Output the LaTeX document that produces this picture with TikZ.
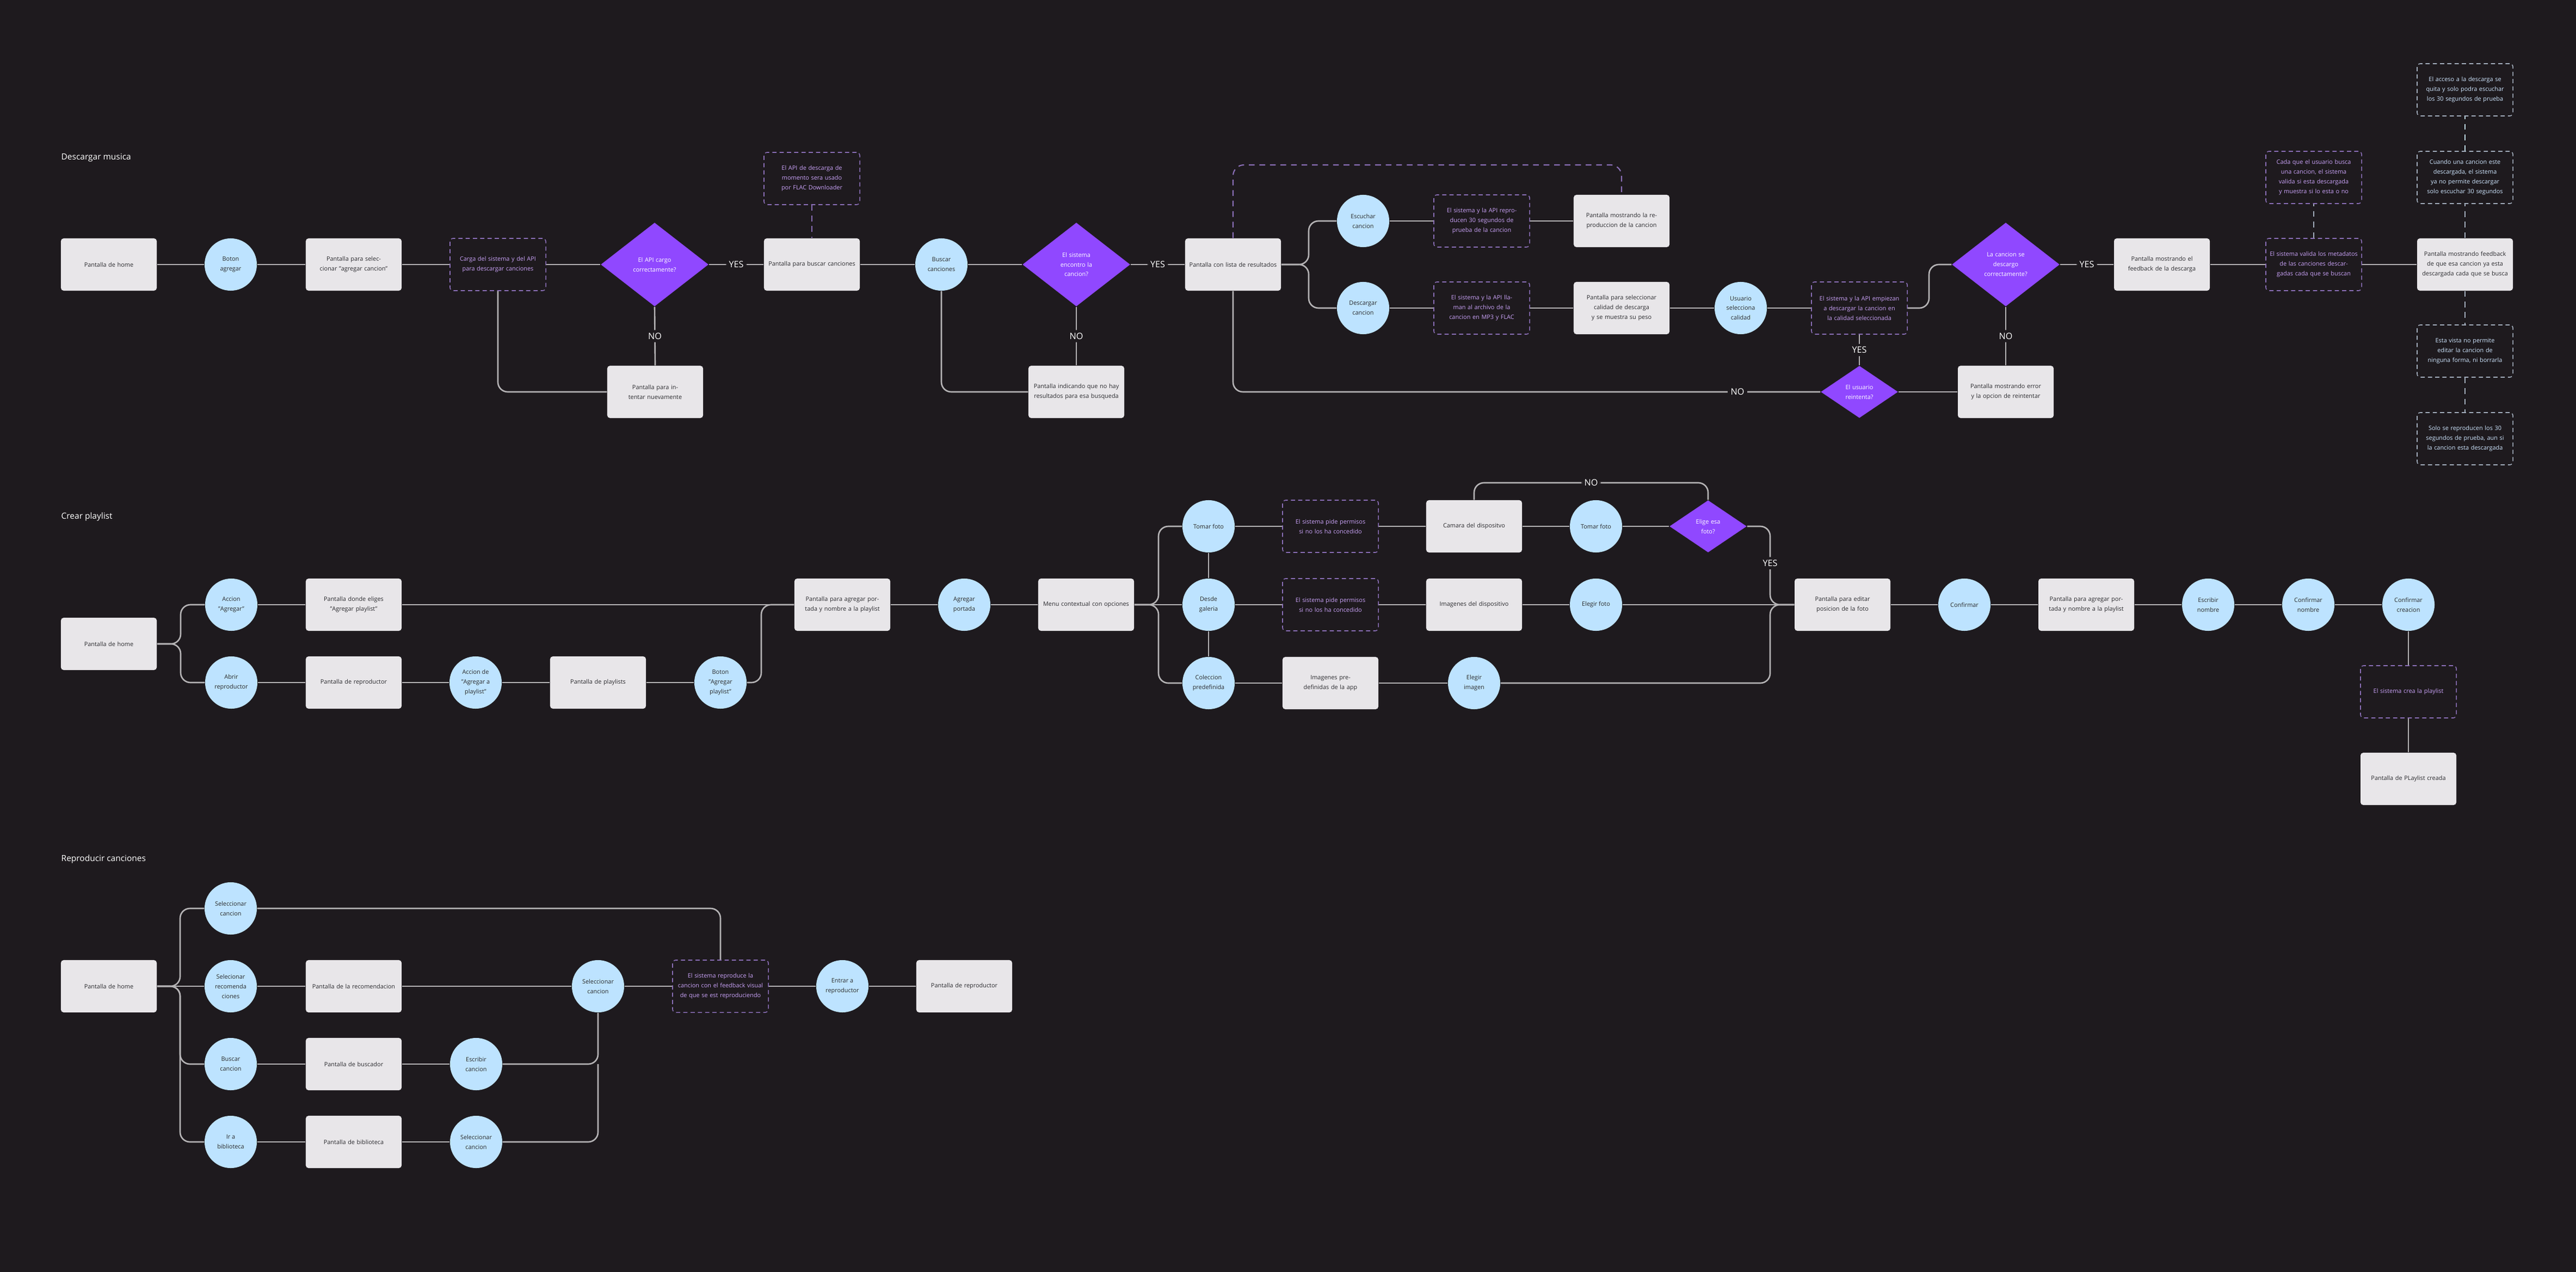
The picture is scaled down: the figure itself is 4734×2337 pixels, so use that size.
\documentclass[tikz,border=0pt]{standalone}
\usepackage{fontspec}
\setmainfont{Open Sans}
\usetikzlibrary{shapes.geometric}
\definecolor{bg}{HTML}{1E1A1E}
\definecolor{boxc}{HTML}{E8E6E9}
\definecolor{circc}{HTML}{BDE3FF}
\definecolor{diac}{HTML}{9048FF}
\definecolor{notec}{HTML}{8B6FB8}
\definecolor{notet}{HTML}{C9A2F7}
\definecolor{bnotec}{HTML}{A3AEBD}
\definecolor{bnotet}{HTML}{CFE6FF}
\definecolor{linec}{HTML}{B5B3B5}
\definecolor{txt}{HTML}{2A2A2E}
\begin{document}
\begin{tikzpicture}[x=0.01cm,y=-0.01cm,
  base/.style={font=\fontsize{3.1}{5.1}\selectfont,align=center,inner sep=0},
  box/.style={base,rectangle,rounded corners=0.05cm,fill=boxc,text=txt,minimum width=1.76cm,minimum height=0.96cm,text width=1.62cm},
  circ/.style={base,circle,fill=circc,text=txt,minimum size=0.96cm},
  note/.style={base,rectangle,rounded corners=0.06cm,draw=notec,line width=0.45pt,dash pattern=on 2.2pt off 1.6pt,text=notet,minimum width=1.76cm,minimum height=0.96cm,text width=1.62cm},
  bnote/.style={note,draw=bnotec,text=bnotet},
  dia/.style={diamond,fill=diac,inner sep=0,minimum width=1.98cm,minimum height=1.54cm},
  sdia/.style={diamond,fill=diac,inner sep=0,minimum width=1.42cm,minimum height=0.96cm},
  dlab/.style={base,text=white,text width=1.1cm},
  conn/.style={draw=linec,line width=0.75pt,rounded corners=0.18cm},
  dconn/.style={draw=notec,line width=0.6pt,dash pattern=on 3pt off 2.5pt,rounded corners=0.2cm},
  bconn/.style={draw=bnotec,line width=0.6pt,dash pattern=on 3pt off 2.5pt},
  lbl/.style={font=\fontsize{4.6}{5}\selectfont,text=white,fill=bg,inner sep=1.5pt},
  title/.style={font=\fontsize{4.4}{5}\selectfont,text=white,anchor=west,inner sep=0}]
\fill[bg] (0,0) rectangle (4734,2337);
\useasboundingbox (0,0) rectangle (4734,2337);

% ===== Section 1 =====
\node[title] (t1) at (112,290) {Descargar musica};
\node[box] (hm1) at (200,486) {Pantalla de home};
\node[circ] (bo1) at (424,486) {Boton\\agregar};
\node[box] (ps1) at (650,486) {Pantalla para seleccionar "agregar cancion"};
\node[note] (cg1) at (915,486) {Carga del sistema y del API para descargar canciones};
\node[dia,label={[dlab]center:El API cargo\\correctamente?}] (d1) at (1203,486) {};
\node[box] (pb1) at (1492,486) {Pantalla para buscar canciones};
\node[note] (an1) at (1492,328) {El API de descarga de momento sera usado por FLAC Downloader};
\node[box] (pi1) at (1204,720) {Pantalla para intentar nuevamente};
\node[circ] (bc1) at (1730,486) {Buscar\\canciones};
\node[dia,label={[dlab]center:El sistema\\encontro la\\cancion?}] (d2) at (1978,486) {};
\node[box] (pl1) at (2266,486) {Pantalla con lista de resultados};
\node[box] (ni1) at (1978,720) {Pantalla indicando que no hay resultados para esa busqueda};
\node[circ] (ec1) at (2505,406) {Escuchar\\cancion};
\node[note] (n2) at (2723,406) {El sistema y la API reproducen 30 segundos de prueba de la cancion};
\node[box] (pm1) at (2980,406) {Pantalla mostrando la reproduccion de la cancion};
\node[circ] (dc1) at (2505,566) {Descargar\\cancion};
\node[note] (n3) at (2723,566) {El sistema y la API llaman al archivo de la cancion en MP3 y FLAC};
\node[box] (pc1) at (2980,566) {Pantalla para seleccionar calidad de descarga y se muestra su peso};
\node[circ] (us1) at (3199,566) {Usuario\\selecciona\\calidad};
\node[note] (n4) at (3417,566) {El sistema y la API empiezan a descargar la cancion en la calidad seleccionada};
\node[dia,label={[dlab]center:La cancion se\\descargo\\correctamente?}] (d3) at (3686,486) {};
\node[box] (pf1) at (3973,486) {Pantalla mostrando el feedback de la descarga};
\node[note] (n5) at (4252,486) {El sistema valida los metadatos de las canciones descargadas cada que se buscan};
\node[note] (n6) at (4252,326) {Cada que el usuario busca una cancion, el sistema valida si esta descargada y muestra si lo esta o no};
\node[box] (pf2) at (4530,486) {Pantalla mostrando feedback de que esa cancion ya esta descargada cada que se busca};
\node[bnote] (b1) at (4530,326) {Cuando una cancion este descargada, el sistema ya no permite descargar solo escuchar 30 segundos};
\node[bnote] (b2) at (4530,165) {El acceso a la descarga se quita y solo podra escuchar los 30 segundos de prueba};
\node[bnote] (b3) at (4530,645) {Esta vista no permite editar la cancion de ninguna forma, ni borrarla};
\node[bnote] (b4) at (4530,806) {Solo se reproducen los 30 segundos de prueba, aun si la cancion esta descargada};
\node[sdia,label={[dlab]center:El usuario\\reintenta?}] (d4) at (3417,720) {};
\node[box] (pe1) at (3686,720) {Pantalla mostrando error y la opcion de reintentar};

\draw[conn] (hm1) -- (bo1); \draw[conn] (bo1) -- (ps1); \draw[conn] (ps1) -- (cg1);
\draw[conn] (cg1) -- (d1);
\draw[conn] (d1) -- node[lbl]{YES} (pb1);
\draw[conn] (pb1) -- (bc1); \draw[conn] (bc1) -- (d2);
\draw[conn] (d2) -- node[lbl]{YES} (pl1);
\draw[conn] (cg1.south) |- (pi1.west);
\draw[conn] (d1.south) -- node[lbl]{NO} (pi1.north);
\draw[dconn] (an1.south) -- (pb1.north);
\draw[conn] (bc1.south) |- (ni1.west);
\draw[conn] (d2.south) -- node[lbl]{NO} (ni1.north);
\draw[conn] (pl1.east) -- (2405,486) |- (ec1.west);
\draw[conn] (pl1.east) -- (2405,486) |- (dc1.west);
\draw[conn] (ec1) -- (n2); \draw[conn] (n2) -- (pm1);
\draw[conn] (dc1) -- (n3); \draw[conn] (n3) -- (pc1); \draw[conn] (pc1) -- (us1); \draw[conn] (us1) -- (n4);
\draw[dconn] (pl1.north) -- (2266,303) -- (2980,303) -- (pm1.north);
\draw[conn] (pl1.south) |- (d4.west);
\node[lbl] (nol) at (3193,720) {NO};
\draw[conn] (d4.east) -- (pe1.west);
\draw[conn] (pe1.north) -- node[lbl]{NO} (d3.south);
\draw[conn] (d4.north) -- node[lbl]{YES} (n4.south);
\draw[conn] (n4.east) -- (3545,566) -- (3545,486) -- (d3.west);
\draw[conn] (d3.east) -- node[lbl]{YES} (pf1.west);
\draw[conn] (pf1) -- (n5); \draw[conn] (n5) -- (pf2);
\draw[bconn] (n5.north) -- (n6.south);
\draw[bconn] (pf2.north) -- (b1.south);
\draw[bconn,draw=circc] (b1.north) -- (b2.south);
\draw[bconn] (pf2.south) -- (b3.north);
\draw[bconn] (b3.south) -- (b4.north);

% ===== Section 2 =====
\node[title] (t2) at (112,949) {Crear playlist};
\node[box] (hm2) at (200,1183) {Pantalla de home};
\node[circ] (aa) at (425,1111) {Accion\\"Agregar"};
\node[box] (pe2) at (650,1111) {Pantalla donde eliges "Agregar playlist"};
\node[circ] (ar) at (425,1254) {Abrir\\reproductor};
\node[box] (pr2) at (650,1254) {Pantalla de reproductor};
\node[circ] (aap) at (874,1254) {Accion de\\"Agregar a\\playlist"};
\node[box] (pp2) at (1099,1254) {Pantalla de playlists};
\node[circ] (bap) at (1324,1254) {Boton\\"Agregar\\playlist"};
\node[box] (pap) at (1548,1111) {Pantalla para agregar portada y nombre a la playlist};
\node[circ] (agp) at (1772,1111) {Agregar\\portada};
\node[box] (mc) at (1996,1111) {Menu contextual con opciones};
\node[circ] (tf) at (2221,967) {Tomar foto};
\node[circ] (dg) at (2221,1111) {Desde\\galeria};
\node[circ] (cp) at (2221,1255) {Coleccion\\predefinida};
\node[note] (np1) at (2445,967) {El sistema pide permisos si no los ha concedido};
\node[note] (np2) at (2445,1111) {El sistema pide permisos si no los ha concedido};
\node[box] (cam) at (2709,967) {Camara del dispositvo};
\node[box] (imd) at (2709,1111) {Imagenes del dispositivo};
\node[box] (ipd) at (2445,1255) {Imagenes predefinidas de la app};
\node[circ] (tf2) at (2933,967) {Tomar foto};
\node[circ] (ef) at (2933,1111) {Elegir foto};
\node[circ] (ei) at (2709,1255) {Elegir\\imagen};
\node[sdia,label={[dlab]center:Elige esa\\foto?}] (d5) at (3139,967) {};
\node[box] (ped) at (3386,1111) {Pantalla para editar posicion de la foto};
\node[circ] (cf) at (3610,1111) {Confirmar};
\node[box] (pap2) at (3834,1111) {Pantalla para agregar portada y nombre a la playlist};
\node[circ] (en) at (4058,1111) {Escribir\\nombre};
\node[circ] (cn) at (4242,1111) {Confirmar\\nombre};
\node[circ] (cc) at (4426,1111) {Confirmar\\creacion};
\node[note] (ncp) at (4426,1271) {El sistema crea la playlist};
\node[box] (ppc) at (4426,1431) {Pantalla de PLaylist creada};

\draw[conn] (hm2.east) -- (332,1183) |- (aa.west);
\draw[conn] (hm2.east) -- (332,1183) |- (ar.west);
\draw[conn] (aa) -- (pe2); \draw[conn] (pe2) -- (pap);
\draw[conn] (ar) -- (pr2); \draw[conn] (pr2) -- (aap); \draw[conn] (aap) -- (pp2); \draw[conn] (pp2) -- (bap);
\draw[conn] (bap.east) -- (1399,1254) -- (1399,1111) -- (pap.west);
\draw[conn] (pap) -- (agp); \draw[conn] (agp) -- (mc);
\draw[conn] (mc.east) -- (2129,1111) |- (tf.west);
\draw[conn] (mc.east) -- (dg.west);
\draw[conn] (mc.east) -- (2129,1111) |- (cp.west);
\draw[conn] (tf.south) -- (dg.north); \draw[conn] (dg.south) -- (cp.north);
\draw[conn] (tf) -- (np1); \draw[conn] (np1) -- (cam); \draw[conn] (cam) -- (tf2); \draw[conn] (tf2) -- (d5);
\draw[conn] (dg) -- (np2); \draw[conn] (np2) -- (imd); \draw[conn] (imd) -- (ef);
\draw[conn] (cp) -- (ipd); \draw[conn] (ipd) -- (ei);
\draw[conn] (cam.north) -- (2709,887) -- node[lbl]{NO} (3139,887) -- (d5.north);
\draw[conn] (d5.east) -- (3253,967) -- node[lbl,pos=0.47]{YES} (3253,1111) -- (ped.west);
\draw[conn] (ef.east) -- (ped.west);
\draw[conn] (ei.east) -- (3253,1255) -- (3253,1111) -- (ped.west);
\draw[conn] (ped) -- (cf); \draw[conn] (cf) -- (pap2); \draw[conn] (pap2) -- (en); \draw[conn] (en) -- (cn); \draw[conn] (cn) -- (cc);
\draw[conn] (cc.south) -- (ncp.north); \draw[conn] (ncp.south) -- (ppc.north);

% ===== Section 3 =====
\node[title] (t3) at (112,1578) {Reproducir canciones};
\node[box] (hm3) at (200,1812) {Pantalla de home};
\node[circ] (sc1) at (424,1669) {Seleccionar\\cancion};
\node[circ] (sr) at (424,1812) {Selecionar\\recomenda\\ciones};
\node[circ] (bc3) at (424,1955) {Buscar\\cancion};
\node[circ] (ib) at (424,2098) {Ir a\\biblioteca};
\node[box] (prc) at (650,1812) {Pantalla de la recomendacion};
\node[box] (pbu) at (650,1955) {Pantalla de buscador};
\node[box] (pbi) at (650,2098) {Pantalla de biblioteca};
\node[circ] (esc) at (875,1955) {Escribir\\cancion};
\node[circ] (sc2) at (875,2098) {Seleccionar\\cancion};
\node[circ] (sc3) at (1099,1812) {Seleccionar\\cancion};
\node[note] (nr) at (1324,1812) {El sistema reproduce la cancion con el feedback visual de que se est reproduciendo};
\node[circ] (er) at (1548,1812) {Entrar a\\reproductor};
\node[box] (prp) at (1772,1812) {Pantalla de reproductor};

\draw[conn] (hm3.east) -- (331,1812) |- (sc1.west);
\draw[conn] (hm3.east) -- (331,1812) |- (bc3.west);
\draw[conn] (hm3.east) -- (331,1812) |- (ib.west);
\draw[conn] (hm3) -- (sr);
\draw[conn] (sc1.east) -- (1324,1669) -- (nr.north);
\draw[conn] (sr) -- (prc); \draw[conn] (prc) -- (sc3); \draw[conn] (sc3) -- (nr); \draw[conn] (nr) -- (er); \draw[conn] (er) -- (prp);
\draw[conn] (bc3) -- (pbu); \draw[conn] (pbu) -- (esc);
\draw[conn] (esc.east) -- (1099,1955) -- (sc3.south);
\draw[conn] (ib) -- (pbi); \draw[conn] (pbi) -- (sc2);
\draw[conn] (sc2.east) -- (1099,2098) -- (1099,1955);
\end{tikzpicture}
\end{document}
